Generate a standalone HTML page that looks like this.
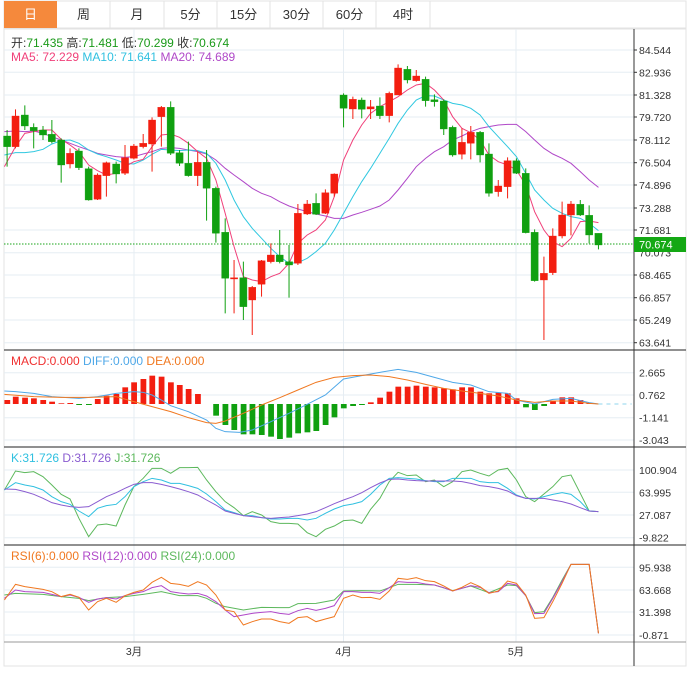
<!DOCTYPE html>
<html><head><meta charset="utf-8"><style>
body{margin:0;background:#fff;width:687px;height:675px;overflow:hidden;font-family:"Liberation Sans","Noto Sans CJK SC",sans-serif}
svg{display:block}
text{font-family:"Liberation Sans","Noto Sans CJK SC",sans-serif}
</style></head><body>
<svg width="687" height="675" viewBox="0 0 687 675" xmlns="http://www.w3.org/2000/svg">
<!-- tabs -->
<rect x="4" y="1" width="682" height="27" fill="#fff" stroke="#e3e3e3"/>
<rect x="4" y="1" width="53" height="27" fill="#f5893c"/>
<g stroke="#e3e3e3"><line x1="110" y1="1" x2="110" y2="28"/><line x1="164" y1="1" x2="164" y2="28"/><line x1="217" y1="1" x2="217" y2="28"/><line x1="270" y1="1" x2="270" y2="28"/><line x1="323" y1="1" x2="323" y2="28"/><line x1="376" y1="1" x2="376" y2="28"/><line x1="430" y1="1" x2="430" y2="28"/></g>
<g font-size="13" text-anchor="middle" fill="#333">
<text x="30.5" y="19" fill="#fff">日</text><text x="83.5" y="19">周</text><text x="137" y="19">月</text><text x="190.5" y="19">5分</text><text x="243.5" y="19">15分</text><text x="296.5" y="19">30分</text><text x="349.5" y="19">60分</text><text x="403" y="19">4时</text></g>
<!-- frame -->
<rect x="4" y="29" width="682" height="637" fill="none" stroke="#e3e3e3"/>
<!-- gridlines -->
<g stroke="#e6edf3" stroke-width="1">
<line x1="4" x2="634" y1="50" y2="50"/><line x1="4" x2="634" y1="72.3" y2="72.3"/><line x1="4" x2="634" y1="95" y2="95"/><line x1="4" x2="634" y1="117" y2="117"/><line x1="4" x2="634" y1="140" y2="140"/><line x1="4" x2="634" y1="162.7" y2="162.7"/><line x1="4" x2="634" y1="185" y2="185"/><line x1="4" x2="634" y1="208" y2="208"/><line x1="4" x2="634" y1="230" y2="230"/><line x1="4" x2="634" y1="252.7" y2="252.7"/><line x1="4" x2="634" y1="275" y2="275"/><line x1="4" x2="634" y1="297.7" y2="297.7"/><line x1="4" x2="634" y1="320" y2="320"/><line x1="4" x2="634" y1="342.7" y2="342.7"/>
<line x1="4" x2="634" y1="372.7" y2="372.7"/><line x1="4" x2="634" y1="395" y2="395"/><line x1="4" x2="634" y1="417.7" y2="417.7"/><line x1="4" x2="634" y1="440" y2="440"/>
<line x1="4" x2="634" y1="470" y2="470"/><line x1="4" x2="634" y1="492.3" y2="492.3"/><line x1="4" x2="634" y1="515" y2="515"/><line x1="4" x2="634" y1="537.7" y2="537.7"/>
<line x1="4" x2="634" y1="567.3" y2="567.3"/><line x1="4" x2="634" y1="590" y2="590"/><line x1="4" x2="634" y1="612" y2="612"/><line x1="4" x2="634" y1="635" y2="635"/>
<line x1="134" x2="134" y1="29" y2="642"/><line x1="343.5" x2="343.5" y1="29" y2="642"/><line x1="516" x2="516" y1="29" y2="642"/>
</g>
<!-- separators -->
<g stroke="#222"><line x1="4" x2="686" y1="350" y2="350"/><line x1="4" x2="686" y1="447" y2="447"/><line x1="4" x2="686" y1="545" y2="545"/></g>
<line x1="4" x2="686" y1="642" y2="642" stroke="#999"/>
<line x1="634" x2="634" y1="29" y2="666" stroke="#333"/>
<!-- axis labels -->
<g font-size="10.5" fill="#333"><g stroke="#333"><line x1="634" x2="637" y1="50" y2="50"/><line x1="634" x2="637" y1="72.3" y2="72.3"/><line x1="634" x2="637" y1="95" y2="95"/><line x1="634" x2="637" y1="117" y2="117"/><line x1="634" x2="637" y1="140" y2="140"/><line x1="634" x2="637" y1="162.7" y2="162.7"/><line x1="634" x2="637" y1="185" y2="185"/><line x1="634" x2="637" y1="208" y2="208"/><line x1="634" x2="637" y1="230" y2="230"/><line x1="634" x2="637" y1="275" y2="275"/><line x1="634" x2="637" y1="297.7" y2="297.7"/><line x1="634" x2="637" y1="320" y2="320"/><line x1="634" x2="637" y1="342.7" y2="342.7"/></g>
<text x="639" y="54">84.544</text><text x="639" y="76.3">82.936</text><text x="639" y="99">81.328</text><text x="639" y="121">79.720</text><text x="639" y="144">78.112</text><text x="639" y="166.7">76.504</text><text x="639" y="189">74.896</text><text x="639" y="212">73.288</text><text x="639" y="234">71.681</text><text x="639" y="256.7">70.073</text><text x="639" y="279">68.465</text><text x="639" y="301.7">66.857</text><text x="639" y="324">65.249</text><text x="639" y="346.7">63.641</text>
<text x="639" y="376.7">2.665</text><text x="639" y="399">0.762</text><text x="639" y="421.7">-1.141</text><text x="639" y="444">-3.043</text>
<text x="639" y="474">100.904</text><text x="639" y="496.3">63.995</text><text x="639" y="519">27.087</text><text x="639" y="541.7">-9.822</text>
<text x="639" y="571.3">95.938</text><text x="639" y="594">63.668</text><text x="639" y="616">31.398</text><text x="639" y="639">-0.871</text>
<text x="134" y="655" text-anchor="middle">3月</text><text x="343.5" y="655" text-anchor="middle">4月</text><text x="516" y="655" text-anchor="middle">5月</text>
</g>
<!-- current price -->
<line x1="4" x2="634" y1="244" y2="244" stroke="#1aa51a" stroke-dasharray="1.5,1.5"/>
<rect x="634" y="237" width="52" height="15" fill="#14a814"/>
<text x="639" y="248.5" font-size="11" fill="#fff">70.674</text>
<!-- legends -->
<g font-size="12"><text x="11" y="47" fill="#333">开:<tspan fill="#1a9a1a">71.435</tspan> 高:<tspan fill="#1a9a1a">71.481</tspan> 低:<tspan fill="#1a9a1a">70.299</tspan> 收:<tspan fill="#1a9a1a">70.674</tspan></text>
<text x="11" y="61" fill="#f0407a">MA5: 72.229 <tspan fill="#30c0e0">MA10: 71.641</tspan> <tspan fill="#b048c8">MA20: 74.689</tspan></text>
<text x="11" y="365" fill="#f03030">MACD:0.000 <tspan fill="#4fa8e8">DIFF:0.000</tspan> <tspan fill="#f07820">DEA:0.000</tspan></text>
<text x="11" y="462" fill="#30c0e0">K:31.726 <tspan fill="#8a5cd0">D:31.726</tspan> <tspan fill="#5cb85c">J:31.726</tspan></text>
<text x="11" y="560" fill="#f07820">RSI(6):0.000 <tspan fill="#b048c8">RSI(12):0.000</tspan> <tspan fill="#5cb85c">RSI(24):0.000</tspan></text></g>

<!-- main chart in zoom coords -->
<g transform="scale(0.4433,0.33333)">
<g fill="none" stroke-width="1" vector-effect="non-scaling-stroke">
<polyline vector-effect="non-scaling-stroke" stroke="#b048c8" points="10,395 35,393 56,395 76,393 97,400 117,410 138,420 158,430 178,440 200,450 220,460 240,465 262,470 282,472 302,470 323,462 343,455 364,445 385,443 405,445 425,450 446,455 466,462 487,480 508,505 528,525 549,545 569,565 590,580 611,590 631,605 652,618 672,627 693,635 713,642 734,648 754,655 775,655 796,645 816,637 836,628 857,618 878,600 898,570 919,535 939,500 960,475 980,455 1001,440 1021,420 1042,408 1062,395 1083,385 1103,380 1124,375 1145,373 1165,373 1186,395 1206,420 1227,445 1247,462 1268,475 1288,490 1309,515 1329,540 1350,562"/>
<polyline vector-effect="non-scaling-stroke" stroke="#30c8e0" points="10,465 35,458 56,458 76,455 97,448 117,432 138,422 158,420 178,430 200,450 220,462 240,470 262,480 282,490 302,492 323,480 343,463 364,448 385,450 405,452 425,450 446,452 466,460 487,490 508,540 528,600 549,650 569,685 590,715 611,745 631,770 652,790 672,788 693,775 713,755 734,730 754,690 775,640 796,590 816,545 836,505 857,460 878,415 898,370 919,330 939,300 960,287 980,288 1001,300 1021,310 1042,315 1062,325 1083,345 1103,380 1124,410 1145,440 1165,470 1186,520 1206,570 1227,600 1247,625 1268,640 1288,650 1309,655 1329,670 1350,692"/>
<polyline vector-effect="non-scaling-stroke" stroke="#f0407a" points="10,500 35,440 56,400 76,395 97,390 117,390 138,418 158,435 178,455 200,495 220,512 240,525 262,520 282,500 302,485 323,478 343,440 364,405 385,402 405,412 425,430 446,455 466,475 487,540 508,640 528,740 549,830 569,840 590,845 611,830 631,820 652,790 672,730 693,705 713,690 734,660 754,590 775,480 796,420 816,375 836,340 857,320 878,305 898,290 919,270 939,255 960,250 980,270 1001,300 1021,350 1042,385 1062,398 1083,420 1103,465 1124,485 1145,495 1165,510 1186,555 1206,635 1227,690 1247,725 1268,740 1288,715 1309,665 1329,663 1350,668"/>
</g>
<g stroke="#10a010" fill="#10a010">
<path vector-effect="non-scaling-stroke" d="M16 390V500M56 316V390M76 370V445M97 378V420M117 360V430M138 415V548M178 445V510M200 500V602M262 485V550M385 304V465M405 450V498M425 425V530M466 450V662M487 560V728M508 655V940M549 785V960M631 690V790M652 735V893M713 580V645M775 280V382M816 293V355M857 292V357M919 198V250M960 230V320M980 283V320M1001 298V405M1021 377V470M1083 393V487M1103 430V590M1165 475V522M1186 505V700M1206 688V845M1309 600V648M1329 616V730M1350 700V748"/>
<rect x="8" y="408" width="16" height="32"/><rect x="48" y="345" width="16" height="33"/><rect x="68" y="382" width="16" height="10"/><rect x="89" y="390" width="16" height="15"/><rect x="109" y="403" width="16" height="22"/><rect x="130" y="420" width="16" height="75"/><rect x="170" y="453" width="16" height="50"/><rect x="192" y="506" width="16" height="94"/><rect x="254" y="492" width="16" height="30"/><rect x="377" y="322" width="16" height="138"/><rect x="397" y="458" width="16" height="32"/><rect x="417" y="490" width="16" height="37"/><rect x="458" y="487" width="16" height="78"/><rect x="479" y="565" width="16" height="135"/><rect x="500" y="697" width="16" height="138"/><rect x="541" y="833" width="16" height="87"/><rect x="623" y="765" width="16" height="20"/><rect x="644" y="785" width="16" height="10"/><rect x="705" y="610" width="16" height="33"/><rect x="767" y="285" width="16" height="40"/><rect x="808" y="300" width="16" height="28"/><rect x="849" y="318" width="16" height="29"/><rect x="911" y="208" width="16" height="32"/><rect x="952" y="238" width="16" height="64"/><rect x="972" y="299" width="16" height="6"/><rect x="993" y="303" width="16" height="84"/><rect x="1013" y="382" width="16" height="83"/><rect x="1075" y="397" width="16" height="68"/><rect x="1095" y="462" width="16" height="118"/><rect x="1157" y="482" width="16" height="38"/><rect x="1178" y="520" width="16" height="178"/><rect x="1198" y="697" width="16" height="145"/><rect x="1301" y="613" width="16" height="32"/><rect x="1321" y="646" width="16" height="59"/><rect x="1342" y="700" width="16" height="35"/>
</g>
<g stroke="#f31e10" fill="#f31e10">
<path vector-effect="non-scaling-stroke" d="M35 328V445M158 445V505M220 520V600M240 485V590M282 435V525M302 432V478M323 402V445M343 352V515M364 318V440M446 455V558M528 780V940M569 858V1005M590 780V890M611 730V790M672 612V795M693 600V645M734 568V642M754 520V590M796 290V357M836 300V357M878 275V367M898 193V285M939 210V245M1042 385V478M1062 378V478M1124 540V590M1145 472V595M1227 770V1020M1247 685V825M1268 605V715M1288 603V706"/>
<rect x="27" y="348" width="16" height="92"/><rect x="150" y="460" width="16" height="32"/><rect x="212" y="525" width="16" height="73"/><rect x="232" y="488" width="16" height="39"/><rect x="274" y="473" width="16" height="47"/><rect x="294" y="438" width="16" height="37"/><rect x="315" y="430" width="16" height="10"/><rect x="335" y="360" width="16" height="72"/><rect x="356" y="322" width="16" height="28"/><rect x="438" y="487" width="16" height="40"/><rect x="520" y="833" width="16" height="4"/><rect x="561" y="862" width="16" height="38"/><rect x="582" y="782" width="16" height="71"/><rect x="603" y="765" width="16" height="20"/><rect x="664" y="640" width="16" height="150"/><rect x="685" y="612" width="16" height="30"/><rect x="726" y="578" width="16" height="62"/><rect x="746" y="522" width="16" height="58"/><rect x="788" y="298" width="16" height="29"/><rect x="828" y="320" width="16" height="7"/><rect x="870" y="280" width="16" height="67"/><rect x="890" y="204" width="16" height="81"/><rect x="931" y="228" width="16" height="14"/><rect x="1034" y="427" width="16" height="36"/><rect x="1054" y="397" width="16" height="33"/><rect x="1116" y="558" width="16" height="17"/><rect x="1137" y="482" width="16" height="78"/><rect x="1219" y="820" width="16" height="20"/><rect x="1239" y="708" width="16" height="110"/><rect x="1260" y="645" width="16" height="63"/><rect x="1280" y="612" width="16" height="33"/>
</g>
</g>

<!-- lower panels in zoom2 coords -->
<g transform="translate(0,345) scale(0.4433,0.33333)">
<line x1="1350" x2="1425" y1="177" y2="177" stroke="#8fd4ec" stroke-dasharray="4,4" vector-effect="non-scaling-stroke"/>
<g fill="#f31e10">
<rect x="10" y="165" width="13" height="12"/><rect x="29" y="155" width="13" height="22"/><rect x="50" y="158" width="13" height="19"/><rect x="70" y="160" width="13" height="17"/><rect x="91" y="165" width="13" height="12"/><rect x="111" y="170" width="13" height="7"/><rect x="132" y="175" width="13" height="2"/><rect x="152" y="174" width="13" height="3"/><rect x="214" y="162" width="13" height="15"/><rect x="234" y="152" width="13" height="25"/><rect x="256" y="147" width="13" height="30"/><rect x="276" y="127" width="13" height="50"/><rect x="296" y="112" width="13" height="65"/><rect x="317" y="102" width="13" height="75"/><rect x="337" y="92" width="13" height="85"/><rect x="358" y="95" width="13" height="82"/><rect x="379" y="112" width="13" height="65"/><rect x="399" y="120" width="13" height="57"/><rect x="419" y="132" width="13" height="45"/><rect x="440" y="147" width="13" height="30"/>
<rect x="830" y="172" width="13" height="5"/><rect x="851" y="158" width="13" height="19"/><rect x="872" y="140" width="13" height="37"/><rect x="892" y="125" width="13" height="52"/><rect x="913" y="125" width="13" height="52"/><rect x="933" y="122" width="13" height="55"/><rect x="954" y="125" width="13" height="52"/><rect x="974" y="127" width="13" height="50"/><rect x="995" y="130" width="13" height="47"/><rect x="1015" y="133" width="13" height="44"/><rect x="1036" y="127" width="13" height="50"/><rect x="1056" y="127" width="13" height="50"/><rect x="1077" y="140" width="13" height="37"/><rect x="1097" y="145" width="13" height="32"/><rect x="1118" y="143" width="13" height="34"/><rect x="1139" y="145" width="13" height="32"/><rect x="1159" y="160" width="13" height="17"/><rect x="1241" y="167" width="13" height="10"/><rect x="1262" y="157" width="13" height="20"/><rect x="1282" y="157" width="13" height="20"/><rect x="1303" y="165" width="13" height="12"/><rect x="1323" y="175" width="13" height="2"/>
</g>
<g fill="#10a010">
<rect x="172" y="177" width="13" height="3"/><rect x="194" y="177" width="13" height="3"/><rect x="481" y="177" width="13" height="35"/><rect x="502" y="177" width="13" height="63"/><rect x="522" y="177" width="13" height="78"/><rect x="543" y="177" width="13" height="91"/><rect x="563" y="177" width="13" height="91"/><rect x="584" y="177" width="13" height="93"/><rect x="605" y="177" width="13" height="98"/><rect x="625" y="177" width="13" height="105"/><rect x="646" y="177" width="13" height="101"/><rect x="666" y="177" width="13" height="88"/><rect x="687" y="177" width="13" height="85"/><rect x="707" y="177" width="13" height="81"/><rect x="728" y="177" width="13" height="63"/><rect x="748" y="177" width="13" height="40"/><rect x="769" y="177" width="13" height="13"/><rect x="790" y="177" width="13" height="6"/><rect x="810" y="177" width="13" height="3"/><rect x="1180" y="177" width="13" height="10"/><rect x="1200" y="177" width="13" height="18"/><rect x="1221" y="177" width="13" height="6"/>
</g>
<g fill="none">
<polyline vector-effect="non-scaling-stroke" stroke="#4fa8e8" points="10,138 35,140 76,145 117,155 178,160 220,155 262,145 302,140 323,142 343,150 364,165 385,182 425,200 466,225 487,250 508,260 540,262 569,255 611,230 652,205 693,178 734,150 775,102 816,92 857,82 898,73 939,82 980,97 1021,112 1062,120 1103,140 1145,145 1165,165 1206,177 1247,163 1288,160 1329,173 1350,177"/>
<polyline vector-effect="non-scaling-stroke" stroke="#f07820" points="10,148 76,155 138,157 200,157 262,155 302,170 343,185 385,200 425,218 466,233 487,235 508,228 549,205 590,180 631,158 672,135 713,112 754,97 796,92 836,90 878,95 919,105 960,118 1001,130 1042,138 1083,145 1124,153 1165,165 1206,172 1247,168 1288,168 1329,175 1350,177"/>
<polyline vector-effect="non-scaling-stroke" stroke="#5cb85c" points="10,435 35,378 56,383 76,380 97,395 117,420 138,448 158,462 178,520 200,575 220,540 240,537 262,543 282,480 302,425 323,400 343,370 364,370 385,385 405,368 425,368 446,367 466,405 487,440 508,470 528,488 549,512 569,500 590,510 611,530 631,535 652,535 672,537 693,563 713,575 734,553 754,543 775,527 796,525 816,535 836,493 857,460 878,410 898,382 919,392 939,390 960,410 980,405 1001,425 1021,410 1042,380 1062,375 1083,385 1103,393 1124,375 1145,370 1165,405 1186,455 1206,470 1227,447 1247,425 1268,395 1288,390 1309,445 1329,498 1350,500"/>
<polyline vector-effect="non-scaling-stroke" stroke="#30c0e0" points="10,435 35,413 56,420 76,425 97,435 117,455 138,470 158,478 178,498 200,515 220,490 240,482 262,478 282,455 302,425 323,410 343,400 364,405 385,415 405,415 425,422 446,430 466,447 487,470 508,495 528,503 549,512 569,512 590,518 611,522 631,522 652,520 672,520 693,525 713,520 734,505 754,492 775,482 796,477 816,470 836,448 857,420 878,400 898,398 919,400 939,402 960,407 980,410 1001,410 1021,400 1042,400 1062,400 1083,410 1103,413 1124,413 1145,430 1165,450 1186,460 1206,462 1227,455 1247,448 1268,443 1288,448 1309,470 1329,498 1350,500"/>
<polyline vector-effect="non-scaling-stroke" stroke="#8a5cd0" points="10,432 35,433 56,440 76,448 97,460 117,473 138,480 158,485 178,487 200,485 220,470 240,455 262,443 282,430 302,418 323,413 343,413 364,418 385,425 405,432 425,440 446,450 466,465 487,480 508,498 528,505 549,512 569,515 590,518 611,520 631,518 652,516 672,512 693,507 713,500 734,488 754,476 775,465 796,455 816,443 836,428 857,414 878,403 898,402 919,405 939,407 960,408 980,408 1001,408 1021,408 1042,410 1062,415 1083,422 1103,425 1124,430 1145,438 1165,452 1186,460 1206,460 1227,460 1247,465 1268,470 1288,477 1309,488 1329,498 1350,500"/>
<polyline vector-effect="non-scaling-stroke" stroke="#5cb85c" points="10,750 35,745 97,748 138,755 178,760 200,767 240,758 282,755 323,748 364,740 405,752 446,752 466,760 487,775 508,785 549,795 590,787 631,788 652,788 672,776 713,775 754,765 775,738 816,737 857,738 878,728 898,718 939,718 980,720 1021,737 1062,723 1103,743 1145,720 1165,722 1186,752 1206,803 1227,800 1247,757 1268,705 1288,658 1329,658 1350,865"/>
<polyline vector-effect="non-scaling-stroke" stroke="#b048c8" points="10,760 35,735 56,740 97,742 117,748 138,755 158,750 178,757 200,772 220,762 240,758 262,762 282,752 302,745 323,740 343,728 364,722 385,740 405,744 425,747 446,745 466,753 487,770 508,795 528,815 549,810 569,805 590,802 611,800 631,805 652,808 672,797 693,790 713,796 734,790 754,782 775,740 796,740 816,742 836,742 857,745 878,728 898,710 919,712 939,712 960,717 980,720 1001,728 1021,738 1042,730 1062,722 1083,727 1103,743 1124,740 1145,715 1165,720 1186,752 1206,806 1227,805 1247,760 1268,710 1288,658 1329,658 1350,865"/>
<polyline vector-effect="non-scaling-stroke" stroke="#f07820" points="10,765 35,718 56,725 97,733 117,740 138,755 158,748 178,757 200,795 220,770 240,760 262,772 282,752 302,742 323,735 343,712 364,697 385,715 405,718 425,724 446,710 466,720 487,750 508,795 528,800 549,840 569,830 590,822 611,822 631,830 652,835 672,818 693,815 713,830 734,822 754,815 775,760 796,750 816,758 836,757 857,763 878,738 898,700 919,703 939,698 960,707 980,710 1001,723 1021,738 1042,727 1062,713 1083,725 1103,745 1124,738 1145,708 1165,715 1186,750 1206,820 1227,818 1247,770 1268,715 1288,658 1309,658 1329,658 1350,865"/>
</g>
</g>
</svg>
</body></html>
